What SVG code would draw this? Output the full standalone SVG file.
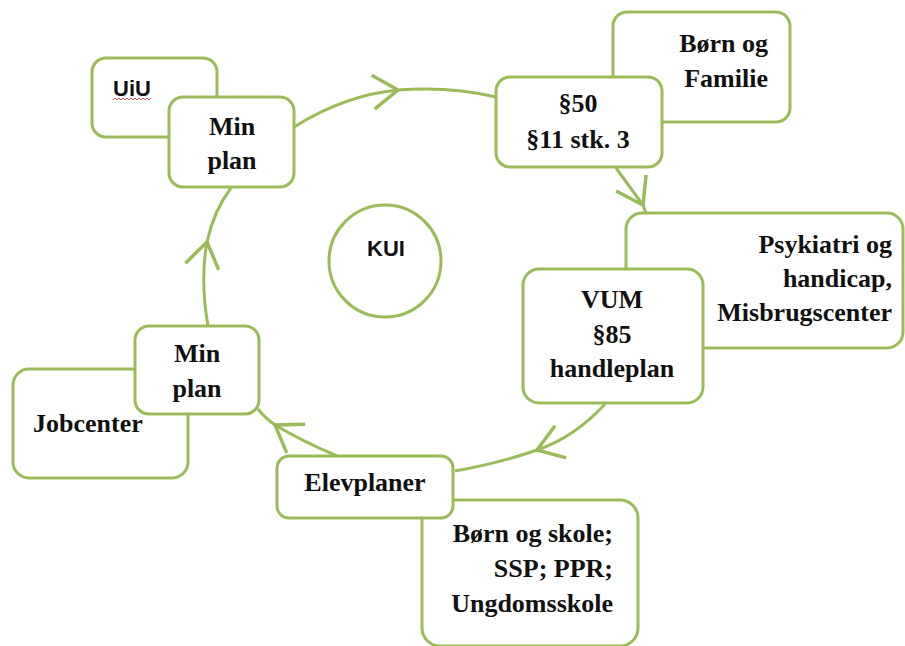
<svg xmlns="http://www.w3.org/2000/svg" width="905" height="646" viewBox="0 0 905 646">
<style>
.box{fill:#fff;stroke:#9BBB59;stroke-width:3}
.con{fill:none;stroke:#9BBB59;stroke-width:3;marker-mid:url(#chev)}
.t{font-family:"Liberation Serif","Times New Roman",serif;font-weight:bold;font-size:26px;fill:#111}
.s{font-family:"Liberation Sans",Arial,sans-serif;font-weight:bold;font-size:22px;fill:#111}
.m{text-anchor:middle}
.r{text-anchor:end}
</style>
<defs>
<marker id="chev" markerUnits="userSpaceOnUse" markerWidth="40" markerHeight="40" viewBox="-30 -20 40 40" refX="0" refY="0" orient="auto" overflow="visible">
<path d="M-25,-17 L0,0 L-25,17" fill="none" stroke="#9BBB59" stroke-width="3.5" stroke-linejoin="miter"/>
</marker>
</defs>
<rect width="905" height="646" fill="#fff"/>
<g id="connectors">
<path class="con" d="M294,127 Q345,95 398,90 Q450,86 496,97"/>
<path class="con" d="M616,168 L643,205 L646,213"/>
<path class="con" d="M605,404 Q575,437 537,450 Q500,463 455,471"/>
<path class="con" d="M337,456 Q300,440 275,425 Q265,418 258,409"/>
<path class="con" d="M208,326 Q200,280 207,242 Q214,210 231,188"/>
</g>
<g id="kui">
<circle cx="385" cy="261" r="56" fill="#fff" stroke="#9BBB59" stroke-width="3"/>
<text class="s m" x="386" y="256">KUI</text>
</g>
<g id="uiu">
<rect class="box" x="92" y="58" width="125" height="79" rx="14"/>
<text class="s" x="113" y="96">UiU</text>
<path d="M113,100 l2,-2 l2,2 l2,-2 l2,2 l2,-2 l2,2 l2,-2 l2,2 l2,-2 l2,2 l2,-2 l2,2 l2,-2 l2,2 l2,-2 l2,2 l2,-2 l2,2 l2,-2" fill="none" stroke="#e05050" stroke-width="1"/>
</g>
<g id="minplan-top">
<rect class="box" x="169" y="97" width="125" height="90" rx="14"/>
<text class="t m" x="232" y="135">Min</text>
<text class="t m" x="232" y="169">plan</text>
</g>
<g id="born-familie">
<rect class="box" x="613" y="12" width="177" height="110" rx="14"/>
<text class="t r" x="768" y="52">Børn og</text>
<text class="t r" x="768" y="87">Familie</text>
</g>
<g id="p50">
<rect class="box" x="496" y="77" width="166" height="90" rx="14"/>
<text class="t m" x="578" y="112">§50</text>
<text class="t m" x="578" y="148">§11 stk. 3</text>
</g>
<g id="psykiatri">
<rect class="box" x="626" y="213" width="277" height="135" rx="16"/>
<text class="t r" x="892" y="253">Psykiatri og</text>
<text class="t r" x="892" y="287">handicap,</text>
<text class="t r" x="892" y="321">Misbrugscenter</text>
</g>
<g id="vum">
<rect class="box" x="523" y="269" width="180" height="134" rx="16"/>
<text class="t m" x="612" y="308">VUM</text>
<text class="t m" x="612" y="343">§85</text>
<text class="t m" x="612" y="377">handleplan</text>
</g>
<g id="born-skole">
<rect class="box" x="422" y="500" width="216" height="146" rx="18"/>
<text class="t r" x="613" y="542">Børn og skole;</text>
<text class="t r" x="613" y="577">SSP; PPR;</text>
<text class="t r" x="613" y="612">Ungdomsskole</text>
</g>
<g id="elevplaner">
<rect class="box" x="277" y="456" width="176" height="62" rx="12"/>
<text class="t m" x="365" y="491">Elevplaner</text>
</g>
<g id="jobcenter">
<rect class="box" x="13" y="369" width="175" height="109" rx="16"/>
<text class="t" x="33" y="432">Jobcenter</text>
</g>
<g id="minplan-left">
<rect class="box" x="135" y="326" width="124" height="88" rx="14"/>
<text class="t m" x="197" y="362">Min</text>
<text class="t m" x="197" y="397">plan</text>
</g>
</svg>
